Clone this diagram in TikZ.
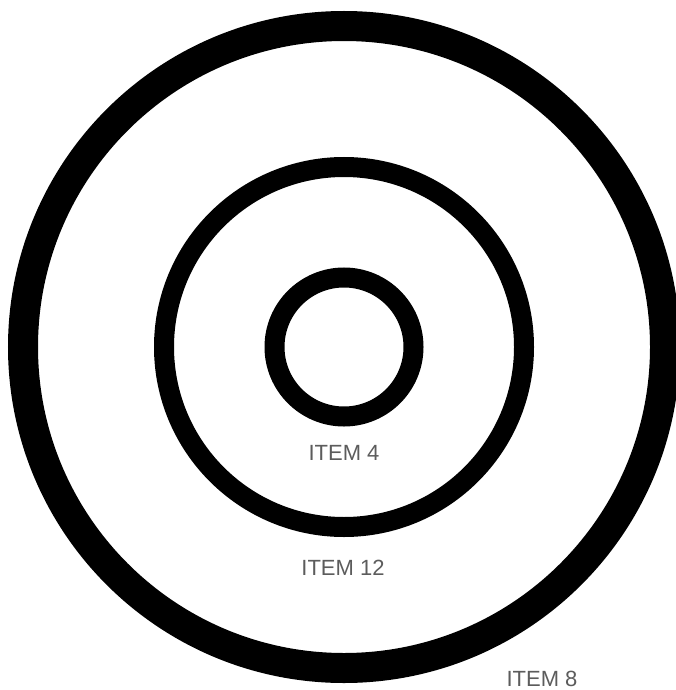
\documentclass[tikz,border=0pt]{standalone}
\usepackage{fontspec}
\setmainfont{Liberation Sans}
\usepackage{tikz}
\usetikzlibrary{positioning}
\definecolor{tgBlack}{HTML}{000000}
\definecolor{tgGrey}{HTML}{5C5C5C}
\tikzset{
  ring/.style      = {circle, draw=tgBlack, inner sep=0pt, outer sep=0pt},
  ringthin/.style  = {ring, line width=20pt},
  ringthick/.style = {ring, line width=30pt},
  itemlbl/.style   = {font=\fontsize{22}{26}\selectfont, tgGrey, inner sep=0pt},
}
\begin{document}
\begin{tikzpicture}[x=1pt,y=-1pt]
  \useasboundingbox (0,0) rectangle (676,690);
  \clip (0,0) rectangle (676,690);
  \coordinate (ctr) at (344,347);
  \node[ringthick, minimum size=642pt] (outer) at (ctr) {};
  \node[ringthin,  minimum size=360pt] (middle) at (ctr) {};
  \node[ringthin,  minimum size=139pt] (inner) at (ctr) {};
  \node[itemlbl] (lbl4)  at (344,453) {ITEM 4};
  \node[itemlbl] (lbl12) at (343,568) {ITEM 12};
  \node[itemlbl] (lbl8)  at (542,679) {ITEM 8};
\end{tikzpicture}
\end{document}
